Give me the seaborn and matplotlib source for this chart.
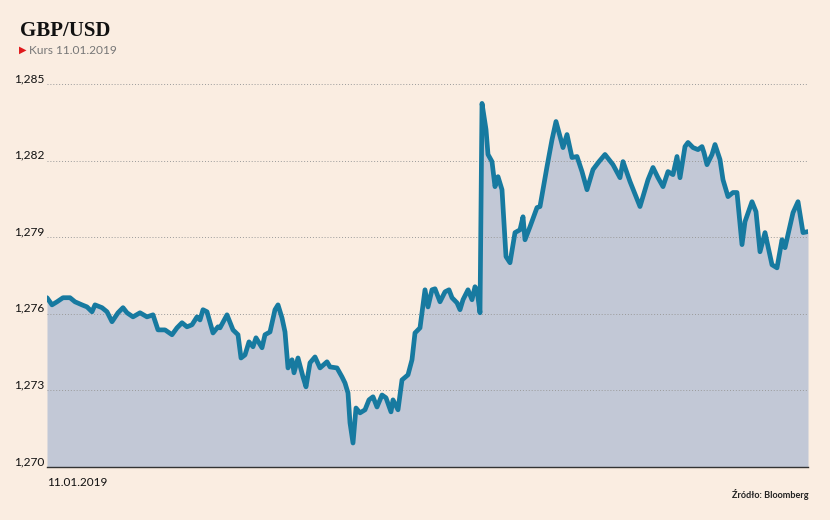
import matplotlib
matplotlib.use("Agg")
import matplotlib.pyplot as plt
import seaborn as sns
import pandas as pd

# minutes from the first quote on 11.01.2019
minutes = [0, 10, 20, 32, 46, 56, 70, 80, 90, 96, 110, 120, 130, 142, 152, 160, 172, 186, 200, 212,
           222, 236, 250, 260, 270, 280, 290, 300, 306, 312, 320, 332, 342, 346, 360, 372, 382, 388,
           396, 404, 412, 418, 430, 436, 446, 456, 462, 470, 476, 482, 490, 494, 502, 512, 518, 526,
           536, 546, 560, 566, 580, 590, 596, 602, 606, 612, 618, 626, 636, 644, 652, 660, 670, 678,
           688, 692, 702, 710, 722, 730, 736, 742, 746, 756, 762, 770, 776, 786, 796, 804, 810, 820,
           826, 832, 842, 850, 856, 860, 866, 870, 878, 882, 890, 896, 902, 910, 918, 926, 936, 946,
           952, 956, 966, 980, 986, 1000, 1010, 1018, 1032, 1040, 1050, 1060, 1070, 1080, 1092, 1104,
           1116, 1132, 1146, 1152, 1166, 1186, 1202, 1212, 1222, 1232, 1242, 1252, 1260, 1266, 1276,
           1282, 1292, 1302, 1310, 1314, 1320, 1330, 1336, 1346, 1352, 1362, 1372, 1380, 1390, 1396,
           1410, 1418, 1426, 1436, 1450, 1460, 1470, 1476, 1492, 1502, 1512, 1522]

rate = [1.27663, 1.27635, 1.27647, 1.27663, 1.27663, 1.27647, 1.27635, 1.27627, 1.27608, 1.27635,
        1.27624, 1.27608, 1.27569, 1.27604, 1.27624, 1.27604, 1.27588, 1.27604, 1.27588, 1.27596,
        1.27537, 1.27537, 1.27518, 1.27545, 1.27565, 1.27549, 1.27557, 1.27588, 1.27576, 1.27616,
        1.27608, 1.27525, 1.27549, 1.27545, 1.27596, 1.27537, 1.27518, 1.27427, 1.27439, 1.27490,
        1.27471, 1.27506, 1.27467, 1.27518, 1.27529, 1.27616, 1.27635, 1.27584, 1.27529, 1.27388,
        1.27420, 1.27369, 1.27427, 1.27353, 1.27314, 1.27408, 1.27431, 1.27388, 1.27412, 1.27392,
        1.27388, 1.27353, 1.27329, 1.27290, 1.27173, 1.27094, 1.27231, 1.27212, 1.27224, 1.27263,
        1.27275, 1.27235, 1.27282, 1.27271, 1.27216, 1.27263, 1.27224, 1.27341, 1.27361, 1.27420,
        1.27525, 1.27537, 1.27545, 1.27694, 1.27627, 1.27694, 1.27698, 1.27647, 1.27686, 1.27694,
        1.27663, 1.27643, 1.27616, 1.27655, 1.27694, 1.27655, 1.27706, 1.27694, 1.27604, 1.28424,
        1.28322, 1.28224, 1.28196, 1.28098, 1.28137, 1.28086, 1.27824, 1.27800, 1.27918, 1.27929,
        1.27980, 1.27890, 1.27941, 1.28016, 1.28020, 1.28176, 1.28282, 1.28353, 1.28251, 1.28302,
        1.28212, 1.28216, 1.28157, 1.28086, 1.28165, 1.28196, 1.28224, 1.28184, 1.28133, 1.28196,
        1.28118, 1.28020, 1.28125, 1.28173, 1.28133, 1.28098, 1.28157, 1.28145, 1.28216, 1.28133,
        1.28255, 1.28271, 1.28251, 1.28243, 1.28255, 1.28231, 1.28184, 1.28224, 1.28263, 1.28204,
        1.28125, 1.28059, 1.28075, 1.28075, 1.27871, 1.27961, 1.28039, 1.28000, 1.27843, 1.27918,
        1.27792, 1.27780, 1.27890, 1.27859, 1.27996, 1.28039, 1.27918, 1.27922]

y_ticks = [1.270, 1.273, 1.276, 1.279, 1.282, 1.285]

BG = "#faede1"
LINE = "#177aa0"
FILL = "#c2c8d6"

df = pd.DataFrame({"minute": minutes, "rate": rate})

sns.set_style("white", {"axes.facecolor": BG, "figure.facecolor": BG})
plt.rcParams["font.family"] = ["Lato", "DejaVu Sans"]

fig = plt.figure(figsize=(8.3, 5.2), dpi=100)
ax = fig.add_axes([47 / 830, 1 - 467 / 520, 761 / 830, 383 / 520])

ax.fill_between(df["minute"], y_ticks[0], df["rate"], color=FILL, lw=0, zorder=1)
sns.lineplot(data=df, x="minute", y="rate", ax=ax, color=LINE, lw=3.4, zorder=3)

ax.set_xlim(minutes[0], minutes[-1])
ax.set_ylim(y_ticks[0], y_ticks[-1])
ax.set_yticks(y_ticks)
ax.set_yticklabels([f"{v:.3f}".replace(".", ",") for v in y_ticks])
for lab in ax.get_yticklabels():
    lab.set_verticalalignment("bottom")
ax.tick_params(axis="y", length=0, pad=2, labelsize=8.6, colors="#111111")
ax.set_xticks([])
ax.set_xlabel("")
ax.set_ylabel("")
ax.grid(axis="y", color="#9a9a9a", linestyle=(0, (1, 2)), lw=0.7, zorder=2)
ax.set_axisbelow(False)
for side in ["top", "right", "left"]:
    ax.spines[side].set_visible(False)
ax.spines["bottom"].set_color("#333333")
ax.spines["bottom"].set_linewidth(1.0)
ax.spines["bottom"].set_zorder(4)

# titles
fig.text(20 / 830, 1 - 36 / 520, "GBP/USD", family="Liberation Serif", weight="bold",
         fontsize=15, color="#111111", va="baseline")
fig.text(19 / 830, 1 - 53 / 520, "\u25b6", family="DejaVu Sans", fontsize=7,
         color="#e0191b", va="baseline")
fig.text(29 / 830, 1 - 54 / 520, "Kurs 11.01.2019", fontsize=8.6, color="#777777", va="baseline")

fig.text(47 / 830, 1 - 486 / 520, "11.01.2019", fontsize=8.5, color="#111111", va="baseline")
fig.text(809 / 830, 1 - 498 / 520, "Źródło: Bloomberg", fontsize=6.6, weight="bold",
         color="#222222", ha="right", va="baseline")

fig.savefig("out.png", dpi=100, facecolor=BG)
plt.close(fig)
